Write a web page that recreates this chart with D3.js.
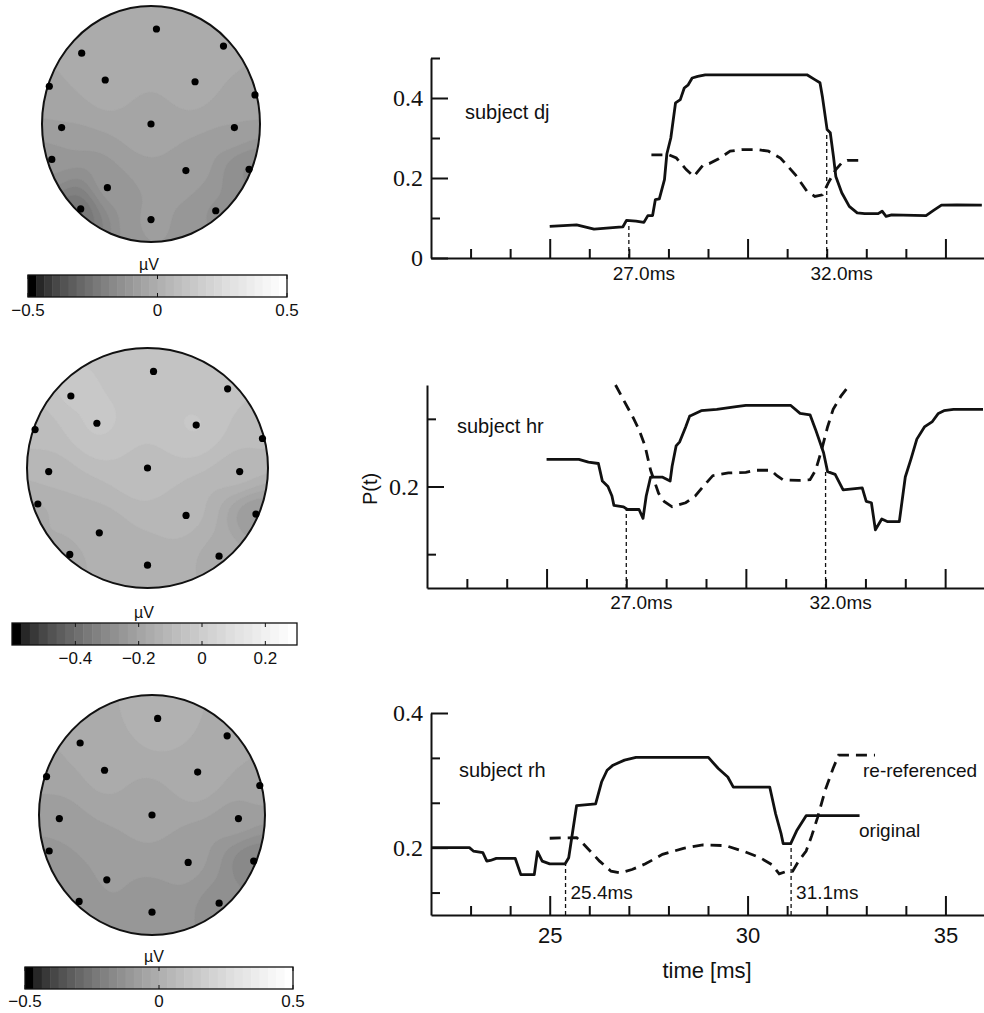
<!DOCTYPE html>
<html>
<head>
<meta charset="utf-8">
<script src="https://cdn.jsdelivr.net/npm/d3@7"></script>
<style>
  body { margin: 0; background: #fff; }
  svg { display: block; }
  text { font-family: 'Liberation Sans', Arial, sans-serif; fill: #111; }
</style>
</head>
<body>
<div id="chart-area"></div>
<script>

// ---------- data ----------
const timeDomain = [22, 36];
const timeMajorTicks = [25, 30, 35];
const timeMinorTicks = [23, 24, 26, 27, 28, 29, 31, 32, 33, 34];

// subject dj : [time ms, P(t)]
const djOriginal = [[25.0,0.079],[25.68,0.083],[26.12,0.072],[26.75,0.077],[26.85,0.078],[26.94,0.094],[27.18,0.092],
  [27.38,0.089],[27.48,0.106],[27.6,0.106],[27.67,0.146],[27.77,0.148],[27.9,0.196],[27.96,0.26],[28.06,0.30],
  [28.18,0.388],[28.3,0.396],[28.4,0.425],[28.5,0.433],[28.6,0.45],[28.74,0.454],[28.93,0.458],[31.5,0.458],
  [31.7,0.446],[31.83,0.438],[31.89,0.404],[32.01,0.321],[32.09,0.313],[32.17,0.254],[32.23,0.204],[32.38,0.163],
  [32.57,0.129],[32.77,0.113],[32.96,0.111],[33.3,0.111],[33.4,0.117],[33.5,0.104],[33.64,0.108],[34.51,0.106],
  [34.7,0.119],[34.9,0.132],[35.29,0.133],[35.92,0.132]];
const djRereferenced = [[27.57,0.258],[28.01,0.258],[28.2,0.25],[28.45,0.221],[28.64,0.204],[28.88,0.233],[29.03,0.236],
  [29.27,0.248],[29.56,0.267],[29.85,0.271],[30.24,0.271],[30.53,0.267],[30.83,0.25],[31.02,0.229],[31.21,0.208],
  [31.5,0.167],[31.7,0.154],[31.89,0.158],[32.04,0.188],[32.23,0.221],[32.38,0.238],[32.52,0.244],[32.86,0.244]];
const djMarkers = [[27.0, 0.08, '27.0ms'], [32.0, 0.31, '32.0ms']];

// subject hr
const hrOriginal = [[25.0,0.220],[25.81,0.220],[26.05,0.218],[26.3,0.217],[26.4,0.204],[26.54,0.200],[26.64,0.193],
  [26.69,0.186],[26.93,0.185],[27.03,0.183],[27.32,0.183],[27.42,0.1765],[27.5,0.193],[27.61,0.207],[27.9,0.207],
  [28.1,0.204],[28.15,0.215],[28.25,0.230],[28.34,0.233],[28.49,0.244],[28.59,0.252],[28.64,0.2526],[28.88,0.256],
  [29.27,0.257],[29.76,0.259],[30.0,0.260],[31.12,0.260],[31.36,0.254],[31.61,0.253],[31.75,0.242],[31.95,0.225],
  [32.05,0.211],[32.24,0.209],[32.44,0.1975],[32.92,0.199],[33.02,0.189],[33.15,0.188],[33.25,0.168],[33.41,0.176],
  [33.56,0.174],[33.85,0.174],[34.0,0.207],[34.14,0.220],[34.29,0.235],[34.48,0.244],[34.68,0.248],[34.83,0.254],
  [34.97,0.256],[35.21,0.257],[35.95,0.257]];
const hrRereferenced = [[26.73,0.275],[26.93,0.264],[27.17,0.251],[27.32,0.242],[27.47,0.230],[27.61,0.212],[27.81,0.195],
  [27.95,0.189],[28.15,0.185],[28.49,0.188],[28.73,0.193],[28.93,0.200],[29.17,0.208],[29.56,0.210],[30.0,0.2105],
  [30.24,0.212],[30.63,0.212],[30.78,0.208],[30.93,0.205],[31.32,0.2045],[31.61,0.205],[31.75,0.212],[31.9,0.227],
  [32.05,0.244],[32.19,0.257],[32.39,0.267],[32.6,0.275]];
const hrMarkers = [[27.0, 0.183, '27.0ms'], [32.0, 0.211, '32.0ms']];

// subject rh
const rhOriginal = [[22.02,0.2],[22.97,0.2],[23.07,0.195],[23.31,0.1925],[23.41,0.18],[23.5,0.181],[23.65,0.184],
  [24.13,0.184],[24.27,0.16],[24.61,0.16],[24.69,0.194],[24.81,0.18],[25.0,0.176],[25.39,0.176],[25.48,0.185],
  [25.68,0.2625],[26.16,0.265],[26.31,0.2975],[26.45,0.315],[26.6,0.3225],[26.89,0.33],[27.18,0.334],[29.01,0.334],
  [29.26,0.3175],[29.5,0.305],[29.64,0.29],[30.56,0.29],[30.71,0.25],[30.85,0.22],[30.9,0.206],[31.09,0.206],
  [31.24,0.225],[31.48,0.2475],[32.83,0.2475]];
const rhRereferenced = [[25.0,0.214],[25.68,0.215],[25.82,0.2075],[26.02,0.195],[26.26,0.18],[26.55,0.165],[26.79,0.1625],
  [27.08,0.1675],[27.42,0.176],[27.85,0.19],[28.38,0.199],[28.87,0.204],[29.45,0.203],[29.93,0.194],[30.32,0.185],
  [30.61,0.175],[30.8,0.161],[30.95,0.164],[31.14,0.165],[31.29,0.18],[31.48,0.195],[31.62,0.2175],[31.77,0.245],
  [31.96,0.285],[32.16,0.3175],[32.3,0.3375],[33.22,0.3375]];
const rhMarkers = [[25.4, 0.175, '25.4ms'], [31.1, 0.205, '31.1ms']];

// electrode layout (unit head coordinates) and potentials (µV) per subject
const electrodeU = [0.05, 0.665, -0.636, -0.42, 0.404, -0.933, 0.954, -0.82, 0, 0.765, -0.91, 0.9, 0.32, -0.4, -0.645, 0.594, 0];
const electrodeV = [-0.805, -0.66, -0.6, -0.373, -0.358, -0.32, -0.246, 0.03, 0, 0.03, 0.3, 0.384, 0.395, 0.54, 0.72, 0.735, 0.81];
const potentialDj = [0.0, -0.01, 0.0, -0.01, -0.01, -0.04, -0.05, -0.06, -0.04, -0.06, -0.12, -0.17, -0.07, -0.09, -0.27, -0.13, -0.09];
const potentialHr = [-0.05, -0.06, -0.03, -0.03, -0.03, -0.09, -0.09, -0.1, -0.07, -0.1, -0.16, -0.25, -0.11, -0.13, -0.16, -0.16, -0.13];
const potentialRh = [0.02, 0.0, -0.01, -0.02, 0.0, -0.06, -0.05, -0.07, -0.05, -0.07, -0.11, -0.2, -0.08, -0.09, -0.11, -0.14, -0.11];

const colorbarDj = [-0.5, 0.5];
const colorbarHr = [-0.6, 0.3];
const colorbarRh = [-0.5, 0.5];
const colorbarTicksDj = [-0.5, 0, 0.5];
const colorbarTicksHr = [-0.4, -0.2, 0, 0.2];
const colorbarTicksRh = [-0.5, 0, 0.5];

// ---------- setup ----------
const widthSvg = 984;
const heightSvg = 1013;
const nBands = 32;

const svg = d3.select('#chart-area').append('svg')
  .attr('width', widthSvg)
  .attr('height', heightSvg);

const bandColor = k => {
  const g = Math.round(255 * Math.pow(k / (nBands - 1), 0.55));
  return d3.rgb(g, g, g).toString();
};

// ---------- line panels ----------
const drawPanel = (cfg) => {
  const x = d3.scaleLinear().domain(timeDomain).range([cfg.left, 985]);
  const y = d3.scaleLinear().domain(cfg.yDomain).range([cfg.bottom, cfg.top]);
  const g = svg.append('g');

  // y axis
  const axisY = g.append('g')
    .attr('transform', `translate(${cfg.left}, 0)`)
    .call(d3.axisLeft(y).tickValues(cfg.yMajor).tickSize(-17).tickSizeOuter(0)
      .tickPadding(8).tickFormat(d3.format('')));
  axisY.selectAll('text')
    .style('font-family', "'Liberation Serif', 'Times New Roman', serif")
    .attr('font-size', 24);
  g.append('g')
    .attr('transform', `translate(${cfg.left}, 0)`)
    .call(d3.axisLeft(y).tickValues(cfg.yMinor).tickSize(-9).tickFormat(''))
    .select('.domain').remove();

  // x axis
  const axisX = g.append('g')
    .attr('transform', `translate(0, ${cfg.bottom})`)
    .call(d3.axisBottom(x).tickValues(timeMajorTicks).tickSize(-19).tickSizeOuter(0)
      .tickPadding(12).tickFormat(cfg.xLabels ? d3.format('d') : ''));
  axisX.selectAll('text').attr('font-size', 22).attr('dy', '0.72em');
  g.append('g')
    .attr('transform', `translate(0, ${cfg.bottom})`)
    .call(d3.axisBottom(x).tickValues(timeMinorTicks).tickSize(-9).tickFormat(''))
    .select('.domain').remove();

  g.selectAll('.domain, .tick line').attr('stroke', '#111').attr('stroke-width', 2);

  // marker lines
  g.selectAll('.marker')
    .data(cfg.markers)
    .enter().append('line')
      .attr('x1', d => x(d[0]))
      .attr('x2', d => x(d[0]))
      .attr('y1', y(cfg.yDomain[0]))
      .attr('y2', d => y(d[1]))
      .attr('stroke', '#111')
      .attr('stroke-width', 1.3)
      .attr('stroke-dasharray', '4,3');

  g.selectAll('.marker-label')
    .data(cfg.markers)
    .enter().append('text')
      .attr('x', d => x(d[0]) + cfg.markerDx)
      .attr('y', cfg.markerY)
      .attr('text-anchor', cfg.markerAnchor)
      .attr('font-size', 19)
      .text(d => d[2]);

  const line = d3.line().x(d => x(d[0])).y(d => y(d[1]));

  g.append('path')
    .datum(cfg.rereferenced)
    .attr('d', line)
    .attr('fill', 'none')
    .attr('stroke', '#111')
    .attr('stroke-width', 2.8)
    .attr('stroke-dasharray', '11,7');

  g.append('path')
    .datum(cfg.original)
    .attr('d', line)
    .attr('fill', 'none')
    .attr('stroke', '#111')
    .attr('stroke-width', 2.8)
    .attr('stroke-linejoin', 'round');

  g.append('text')
    .attr('x', cfg.titleX)
    .attr('y', cfg.titleY)
    .attr('font-size', 20)
    .text(cfg.title);

  return { x, y, g };
};

drawPanel({
  left: 431, top: 58, bottom: 258,
  yDomain: [0, 0.5], yMajor: [0, 0.2, 0.4], yMinor: [0.1, 0.3, 0.5],
  original: djOriginal, rereferenced: djRereferenced, markers: djMarkers,
  markerDx: 15, markerY: 280, markerAnchor: 'middle',
  title: 'subject dj', titleX: 465, titleY: 119, xLabels: false,
});

drawPanel({
  left: 427, top: 385, bottom: 588,
  yDomain: [0.125, 0.275], yMajor: [0.2], yMinor: [0.15, 0.25],
  original: hrOriginal, rereferenced: hrRereferenced, markers: hrMarkers,
  markerDx: 15, markerY: 609, markerAnchor: 'middle',
  title: 'subject hr', titleX: 457, titleY: 433, xLabels: false,
});

const panelRh = drawPanel({
  left: 431, top: 713, bottom: 915,
  yDomain: [0.1, 0.4], yMajor: [0.2, 0.4], yMinor: [0.2 - 0.2 / 3, 0.2 + 0.2 / 3, 0.2 + 0.4 / 3],
  original: rhOriginal, rereferenced: rhRereferenced, markers: rhMarkers,
  markerDx: 5, markerY: 899, markerAnchor: 'start',
  title: 'subject rh', titleX: 459, titleY: 777, xLabels: true,
});

panelRh.g.append('text')
  .attr('x', 863).attr('y', 777)
  .attr('font-size', 19)
  .text('re-referenced');
panelRh.g.append('text')
  .attr('x', 859).attr('y', 837)
  .attr('font-size', 19)
  .text('original');
panelRh.g.append('text')
  .attr('x', 707).attr('y', 978)
  .attr('text-anchor', 'middle')
  .attr('font-size', 22)
  .text('time [ms]');

svg.append('text')
  .attr('transform', 'translate(377, 489) rotate(-90)')
  .attr('text-anchor', 'middle')
  .attr('font-size', 20)
  .text('P(t)');

// ---------- head maps ----------
const drawHead = (cfg, values, domain, ticks, idx) => {
  const n = 110;
  const ext = 1.05;
  const gridToUnit = d3.scaleLinear().domain([0, n]).range([-ext, ext]);
  const px = d3.scaleLinear().domain([-1, 1]).range([cfg.cx - cfg.rx, cfg.cx + cfg.rx]);
  const py = d3.scaleLinear().domain([-1, 1]).range([cfg.cy - cfg.ry, cfg.cy + cfg.ry]);

  // smoothed inverse-distance field from the electrode potentials
  const grid = new Array(n * n);
  for (let j = 0; j < n; j++) {
    for (let i = 0; i < n; i++) {
      const u = gridToUnit(i + 0.5), v = gridToUnit(j + 0.5);
      let ws = 0, s = 0;
      for (let e = 0; e < values.length; e++) {
        const d2 = (u - electrodeU[e]) ** 2 + (v - electrodeV[e]) ** 2;
        const w = 1 / Math.pow(d2 + 0.05, 2);
        ws += w; s += w * values[e];
      }
      grid[j * n + i] = s / ws;
    }
  }

  const step = (domain[1] - domain[0]) / nBands;
  const thresholds = d3.range(nBands).map(k => domain[0] + k * step);
  const contours = d3.contours().size([n, n]).thresholds(thresholds)(grid);

  const path = d3.geoPath(d3.geoTransform({
    point(x, y) { this.stream.point(px(gridToUnit(x)), py(gridToUnit(y))); }
  }));

  const clipId = `head-clip-${idx}`;
  svg.append('clipPath').attr('id', clipId)
    .append('ellipse')
      .attr('cx', cfg.cx).attr('cy', cfg.cy)
      .attr('rx', cfg.rx).attr('ry', cfg.ry);

  const g = svg.append('g');
  g.append('g')
    .attr('clip-path', `url(#${clipId})`)
    .selectAll('path')
    .data(contours)
    .enter().append('path')
      .attr('d', path)
      .attr('fill', (d, i) => bandColor(i))
      .attr('stroke', (d, i) => bandColor(i))
      .attr('stroke-width', 0.5);

  g.append('ellipse')
    .attr('cx', cfg.cx).attr('cy', cfg.cy)
    .attr('rx', cfg.rx).attr('ry', cfg.ry)
    .attr('fill', 'none')
    .attr('stroke', '#111')
    .attr('stroke-width', 2);

  g.selectAll('.electrode')
    .data(values)
    .enter().append('circle')
      .attr('cx', (d, i) => px(electrodeU[i]))
      .attr('cy', (d, i) => py(electrodeV[i]))
      .attr('r', 3.6)
      .attr('fill', '#000');

  // colorbar
  const cb = d3.scaleLinear().domain(domain).range([cfg.cbX0, cfg.cbX1]);
  const cbH = 22;
  g.selectAll('.band')
    .data(d3.range(nBands))
    .enter().append('rect')
      .attr('x', k => cb(domain[0] + k * step))
      .attr('y', cfg.cbY)
      .attr('width', k => cb(domain[0] + (k + 1) * step) - cb(domain[0] + k * step) + 0.5)
      .attr('height', cbH)
      .attr('fill', k => bandColor(k));
  g.append('rect')
    .attr('x', cfg.cbX0).attr('y', cfg.cbY)
    .attr('width', cfg.cbX1 - cfg.cbX0).attr('height', cbH)
    .attr('fill', 'none').attr('stroke', '#111').attr('stroke-width', 1.3);

  ticks.forEach(t => {
    g.append('line')
      .attr('x1', cb(t)).attr('x2', cb(t))
      .attr('y1', cfg.cbY).attr('y2', cfg.cbY + 4)
      .attr('stroke', '#111').attr('stroke-width', 1);
    g.append('line')
      .attr('x1', cb(t)).attr('x2', cb(t))
      .attr('y1', cfg.cbY + cbH - 4).attr('y2', cfg.cbY + cbH)
      .attr('stroke', '#111').attr('stroke-width', 1);
  });

  g.selectAll('.cb-label')
    .data(ticks)
    .enter().append('text')
      .attr('x', d => cb(d))
      .attr('y', cfg.cbY + cbH + cfg.labelGap)
      .attr('text-anchor', 'middle')
      .attr('font-size', 17)
      .text(d => d3.format('')(d));

  g.append('text')
    .attr('x', cfg.unitX)
    .attr('y', cfg.cbY - 5)
    .attr('text-anchor', 'middle')
    .attr('font-size', 16)
    .text('\u00b5V');
};

drawHead({ cx: 151, cy: 124, rx: 109, ry: 118, cbX0: 28, cbX1: 287, cbY: 275, labelGap: 19, unitX: 149 },
  potentialDj, colorbarDj, colorbarTicksDj, 0);
drawHead({ cx: 147.5, cy: 468, rx: 120.5, ry: 120, cbX0: 12, cbX1: 297, cbY: 623, labelGap: 19, unitX: 144 },
  potentialHr, colorbarHr, colorbarTicksHr, 1);
drawHead({ cx: 152, cy: 815, rx: 113, ry: 120, cbX0: 25, cbX1: 293, cbY: 967, labelGap: 18, unitX: 154 },
  potentialRh, colorbarRh, colorbarTicksRh, 2);

</script>
</body>
</html>
